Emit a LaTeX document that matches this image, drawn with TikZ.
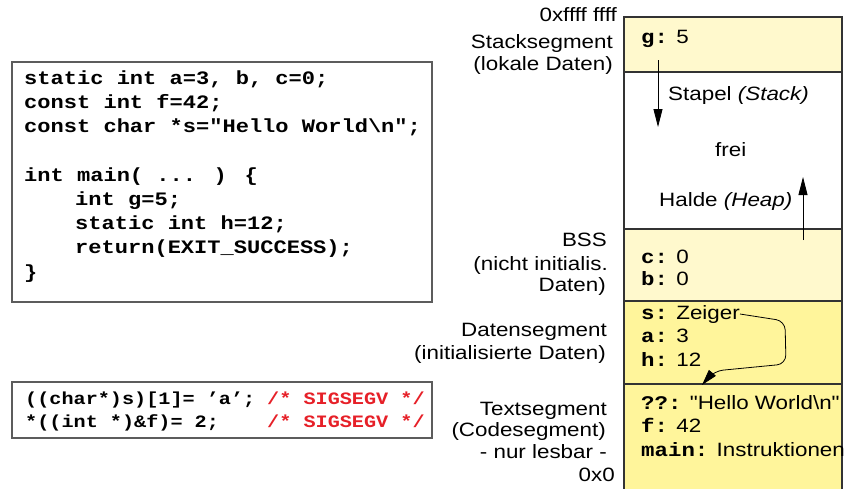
\documentclass[tikz,border=0pt]{standalone}
\usepackage{fontspec}
\setmainfont{Liberation Sans}[FakeStretch=1.16, Ligatures=TeXOff]
\newfontfamily\codefont{Liberation Mono}[FakeStretch=1.16]
\usetikzlibrary{arrows.meta}
\definecolor{paleyel}{HTML}{FFF9CD}
\definecolor{deepyel}{HTML}{FFF59B}
\definecolor{sigred}{HTML}{E62028}
\definecolor{edge}{HTML}{333333}
\tikzset{
  lbl/.style={anchor=base east, inner sep=0pt, font=\fontsize{19.3}{22}\selectfont},
  memtxt/.style={anchor=base west, inner sep=0pt, font=\fontsize{19.3}{22}\selectfont},
  code/.style={anchor=base west, inner sep=0pt, font=\codefont\bfseries\fontsize{19}{22}\selectfont},
  smallcode/.style={anchor=base west, inner sep=0pt, font=\codefont\bfseries\fontsize{17.4}{20}\selectfont},
  cell/.style={draw=edge, line width=1.4pt},
  frame/.style={draw=edge!80, line width=1.1pt},
  growarrow/.style={line width=0.8pt, -{Triangle[length=18pt,width=9pt]}},
}
\newcommand{\key}[1]{{\codefont\bfseries #1}}
\begin{document}
\begin{tikzpicture}[x=1pt,y=-1pt]
\useasboundingbox (0,0) rectangle (844,488);
% memory column
\path[cell, fill=paleyel] (624,17) rectangle (842,72);
\path[cell, fill=white] (624,72) rectangle (842,229);
\path[cell, fill=paleyel] (624,229) rectangle (842,301);
\path[cell, fill=deepyel] (624,301) rectangle (842,384);
\path[cell, fill=deepyel] (624,384) rectangle (842,500);
% left labels
\node[lbl] (top) at (617,21.7) {0xffff ffff};
\node[lbl] (stk1) at (613,48.3) {Stacksegment};
\node[lbl] (stk2) at (613,70) {(lokale Daten)};
\node[lbl] (bss1) at (607,246.7) {BSS};
\node[lbl] (bss2) at (608,270) {(nicht initialis.};
\node[lbl] (bss3) at (606,291.7) {Daten)};
\node[lbl] (dat1) at (607,336.7) {Datensegment};
\node[lbl] (dat2) at (606,359.3) {(initialisierte Daten)};
\node[lbl] (txt1) at (607,415) {Textsegment};
\node[lbl] (txt2) at (606,436.7) {(Codesegment)};
\node[lbl] (txt3) at (607,458.3) {- nur lesbar -};
\node[lbl] (bot) at (615,481.7) {0x0};
% memory contents
\node[memtxt] (g) at (641,43) {\key{g:} 5};
\node[memtxt] (stapel) at (668,100) {Stapel \textit{(Stack)}};
\node[memtxt] (frei) at (715,156.7) {frei};
\node[memtxt] (halde) at (659,206.7) {Halde \textit{(Heap)}};
\node[memtxt] (c) at (641,263) {\key{c:} 0};
\node[memtxt] (b) at (641,285.5) {\key{b:} 0};
\node[memtxt] (s) at (641,319) {\key{s:} Zeiger};
\node[memtxt] (a) at (641,342.5) {\key{a:} 3};
\node[memtxt] (h) at (641,366) {\key{h:} 12};
\node[memtxt] (hw) at (641,409) {\key{??:} "Hello World\textbackslash n"};
\node[memtxt] (f) at (641,432.5) {\key{f:} 42};
\node[memtxt] (mn) at (641,456) {\key{main:} Instruktionen};
% growth arrows
\coordinate (stackfrom) at (658,60);
\coordinate (stackto) at (658,127);
\coordinate (heapfrom) at (803,240);
\coordinate (heapto) at (803,177);
\draw[growarrow] (stackfrom) -- (stackto);
\draw[growarrow] (heapfrom) -- (heapto);
% pointer
\coordinate (hwtip) at (702,385);
\draw[line width=0.8pt, rounded corners=9pt, -{Triangle[length=16pt,width=9pt]}]
  (s.east) -- (785,321) -- (786,364) -- (714,371) -- (hwtip);
% code box
\path[frame] (12,62) rectangle (432,302);
\node[code] (c1) at (24,84) {static int a=3, b, c=0;};
\node[code] (c2) at (24,108.3) {const int f=42;};
\node[code] (c3) at (24,132.5) {const char *s="Hello World\textbackslash n";};
\node[code] (c4) at (24,181) {int main( ... ) \{};
\node[code] (c5) at (75,205.3) {int g=5;};
\node[code] (c6) at (75,229.5) {static int h=12;};
\node[code] (c7) at (75,253.8) {return(EXIT\_SUCCESS);};
\node[code] (c8) at (24,278) {\}};
% faulting code box
\path[frame] (12,382) rectangle (432,438);
\node[smallcode] (e1) at (25,404) {((char*)s)[1]= ’a’;};
\node[smallcode, text=sigred] (e1c) at (267,404) {/* SIGSEGV */};
\node[smallcode] (e2) at (25,427) {*((int *)\&f)= 2;};
\node[smallcode, text=sigred] (e2c) at (267,427) {/* SIGSEGV */};
\end{tikzpicture}
\end{document}
